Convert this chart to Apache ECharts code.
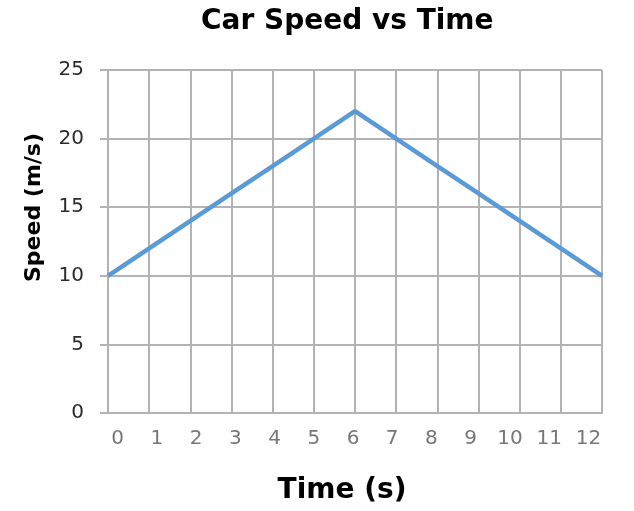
<!DOCTYPE html>
<html>
<head>
<meta charset="utf-8">
<script src="https://cdn.jsdelivr.net/npm/echarts@6/dist/echarts.min.js"></script>
<style>html,body{margin:0;padding:0;background:#fff}#c{width:634px;height:511px}</style>
</head>
<body>
<div id="c"></div>
<script>
const titleText = "Car Speed vs Time";
const xName = "Time (s)";
const yName = "Speed (m/s)";
const times = [0,1,2,3,4,5,6,7,8,9,10,11,12];
const speeds = [10,12,14,16,18,20,22,20,18,16,14,12,10];
const xTickLabels = ["0","1","2","3","4","5","6","7","8","9","10","11","12"];

const grid = '#b3b3b3';
const font = 'DejaVu Sans';
const chart = echarts.init(document.getElementById('c'));
chart.setOption({
  animation: false,
  title: {text: titleText, left: 196, top: 3,
    textStyle: {fontFamily: font, fontWeight: 'bold', fontSize: 28, color: '#000'}},
  grid: [
    {left: 108, right: 32, top: 70, bottom: 98},
    {left: 98, right: 26, top: 70, bottom: 98}
  ],
  xAxis: [
    {type: 'value', gridIndex: 0, min: 0, max: 12, interval: 1,
      name: xName, nameLocation: 'middle', nameGap: 64,
      nameTextStyle: {fontFamily: font, fontWeight: 'bold', fontSize: 28, color: '#000', padding: [0, 26, 0, 0]},
      axisLine: {show: true, lineStyle: {color: grid, width: 2}},
      axisTick: {show: false}, axisLabel: {show: false},
      splitLine: {show: true, lineStyle: {color: grid, width: 2}}},
    {type: 'category', gridIndex: 1, data: xTickLabels, boundaryGap: true,
      axisLine: {show: false}, axisTick: {show: false}, splitLine: {show: false},
      axisLabel: {margin: 16, fontFamily: font, fontSize: 20, color: '#777'}}
  ],
  yAxis: [
    {type: 'value', gridIndex: 0, min: 0, max: 25, interval: 5,
      name: yName, nameLocation: 'middle', nameGap: 63, nameRotate: 90,
      nameTextStyle: {fontFamily: font, fontWeight: 'bold', fontSize: 22, color: '#000', padding: [0, 0, 0, 68]},
      axisLine: {show: true, lineStyle: {color: grid, width: 2}},
      axisTick: {show: true, length: 8, lineStyle: {color: grid, width: 2}},
      axisLabel: {margin: 24, fontFamily: font, fontSize: 20, color: '#2b2b2b'},
      splitLine: {show: true, lineStyle: {color: grid, width: 2}}},
    {type: 'value', gridIndex: 1, show: false, min: 0, max: 25}
  ],
  series: [{
    type: 'line', xAxisIndex: 0, yAxisIndex: 0,
    data: times.map((t, i) => [t, speeds[i]]),
    showSymbol: false, symbol: 'none',
    lineStyle: {color: '#5b9bd5', width: 4.5}
  }]
});
</script>
</body>
</html>
